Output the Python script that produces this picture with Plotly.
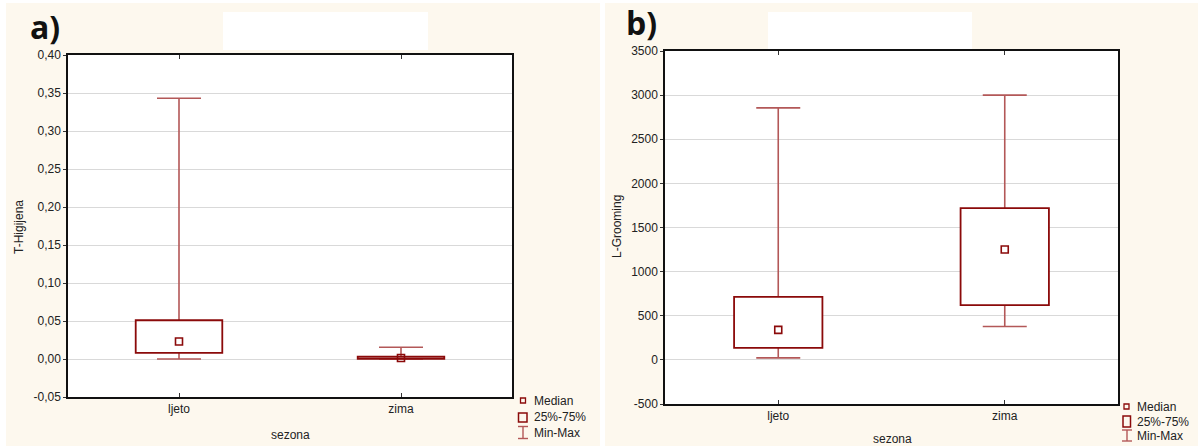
import plotly.graph_objects as go

# ---------------- data ----------------
categories = ["ljeto", "zima"]

# panel a) T-Higijena
a_min = [0.0, 0.0]
a_q1 = [0.008, 0.0003]
a_median = [0.023, 0.0013]
a_q3 = [0.051, 0.003]
a_max = [0.343, 0.0154]
a_ticks = [-0.05, 0.0, 0.05, 0.10, 0.15, 0.20, 0.25, 0.30, 0.35, 0.40]

# panel b) L-Grooming
b_min = [23, 378]
b_q1 = [136, 620]
b_median = [340, 1250]
b_q3 = [714, 1720]
b_max = [2855, 3000]
b_ticks = [-500, 0, 500, 1000, 1500, 2000, 2500, 3000, 3500]

# ---------------- styles ----------------
W, H = 1198, 446
BOX_COL = "#8B0A0A"
WHISK_COL = "#B35858"
CREAM = "#FDF8EE"
FONT = "Liberation Sans, Arial, sans-serif"
TXT = "#222222"


def px(x):
    return x / W


def py(y):
    return 1 - y / H


fig = go.Figure()


def add_panel(xa, ya, xo, yo, vmin, q1, med, q3, vmax):
    # whiskers (base layer)
    fig.add_trace(go.Scatter(
        x=categories, y=med, mode="markers",
        marker=dict(size=1, opacity=0),
        error_y=dict(type="data", symmetric=False,
                     array=[mx - m for mx, m in zip(vmax, med)],
                     arrayminus=[m - mn for m, mn in zip(med, vmin)],
                     color=WHISK_COL, thickness=1.6, width=22),
        xaxis=xa, yaxis=ya, showlegend=False, hoverinfo="skip"))
    # boxes (overlay layer, on top of whiskers)
    fig.add_trace(go.Bar(
        x=categories, base=q1, y=[b - a for a, b in zip(q1, q3)],
        width=0.39, marker=dict(color="white", line=dict(color=BOX_COL, width=1.8)),
        xaxis=xo, yaxis=yo, showlegend=False, hoverinfo="skip"))
    # medians
    fig.add_trace(go.Scatter(
        x=categories, y=med, mode="markers",
        marker=dict(symbol="square-open", size=7, color=BOX_COL, line=dict(width=1.6)),
        xaxis=xo, yaxis=yo, showlegend=False, hoverinfo="skip"))


add_panel("x", "y", "x3", "y3", a_min, a_q1, a_median, a_q3, a_max)
add_panel("x2", "y2", "x4", "y4", b_min, b_q1, b_median, b_q3, b_max)

A_BOX = (68, 512, 55, 397)
B_BOX = (665, 1118, 51, 404)
a_dom_x = [px(A_BOX[0]), px(A_BOX[1])]
a_dom_y = [py(A_BOX[3]), py(A_BOX[2])]
b_dom_x = [px(B_BOX[0]), px(B_BOX[1])]
b_dom_y = [py(B_BOX[3]), py(B_BOX[2])]
a_range = [-0.05, 0.40]
b_range = [-500, 3500]

xbase = dict(type="category", categoryorder="array", categoryarray=categories,
             range=[-0.5, 1.5], showline=True, linecolor="#111", linewidth=1.5,
             mirror="ticks", ticks="inside", ticklen=4, tickcolor="#333",
             showgrid=False, automargin=False,
             tickfont=dict(family=FONT, size=12, color=TXT))
ybase = dict(showline=True, linecolor="#111", linewidth=1.5, mirror=True,
             ticks="outside", ticklen=3, tickcolor="#333", automargin=False,
             showgrid=True, gridcolor="#D9D9D9", gridwidth=1, zeroline=False,
             tickfont=dict(family=FONT, size=12, color=TXT))
xover = dict(type="category", categoryorder="array", categoryarray=categories,
             range=[-0.5, 1.5], visible=False, showgrid=False, automargin=False)
yover = dict(visible=False, showgrid=False, zeroline=False, automargin=False)

fig.update_layout(
    width=W, height=H, autosize=False,
    margin=dict(l=0, r=0, t=0, b=0, pad=0),
    paper_bgcolor="white", plot_bgcolor="white",
    barmode="overlay",
    xaxis=dict(xbase, domain=a_dom_x, anchor="y"),
    yaxis=dict(ybase, domain=a_dom_y, anchor="x", range=a_range,
               tickvals=a_ticks,
               ticktext=[("%.2f" % v).replace(".", ",") for v in a_ticks]),
    xaxis2=dict(xbase, domain=b_dom_x, anchor="y2"),
    yaxis2=dict(ybase, domain=b_dom_y, anchor="x2", range=b_range,
                tickvals=b_ticks, ticktext=[str(v) for v in b_ticks]),
    xaxis3=dict(xover, domain=a_dom_x, anchor="y3", overlaying="x"),
    yaxis3=dict(yover, domain=a_dom_y, anchor="x3", range=a_range, overlaying="y"),
    xaxis4=dict(xover, domain=b_dom_x, anchor="y4", overlaying="x2"),
    yaxis4=dict(yover, domain=b_dom_y, anchor="x4", range=b_range, overlaying="y2"),
)

shapes = []
# panel backgrounds
for x0, x1 in [(6, 600), (605, 1198)]:
    shapes.append(dict(type="rect", xref="paper", yref="paper", layer="below",
                       x0=px(x0), x1=px(x1), y0=py(446), y1=py(3),
                       fillcolor=CREAM, line=dict(width=0)))
# white plot areas
for (x0, x1, y0, y1) in [A_BOX, B_BOX]:
    shapes.append(dict(type="rect", xref="paper", yref="paper", layer="below",
                       x0=px(x0), x1=px(x1), y0=py(y1), y1=py(y0),
                       fillcolor="white", line=dict(width=0)))
# blank white title boxes
for x0, x1 in [(223, 428), (768, 972)]:
    shapes.append(dict(type="rect", xref="paper", yref="paper", layer="below",
                       x0=px(x0), x1=px(x1), y0=py(50), y1=py(12),
                       fillcolor="white", line=dict(width=0)))


def legend(sq_c, box, ibar, text_x, text_ys):
    cx, cy = sq_c
    shapes.append(dict(type="rect", xref="paper", yref="paper",
                       x0=px(cx - 2.5), x1=px(cx + 2.5), y0=py(cy + 2.5), y1=py(cy - 2.5),
                       line=dict(color=BOX_COL, width=1.3)))
    bx0, bx1, by0, by1 = box
    shapes.append(dict(type="rect", xref="paper", yref="paper",
                       x0=px(bx0), x1=px(bx1), y0=py(by1), y1=py(by0),
                       line=dict(color=BOX_COL, width=1.5)))
    ix, iy0, iy1, hw = ibar
    for (xa0, ya0, xa1, ya1) in [(ix, iy0, ix, iy1), (ix - hw, iy0, ix + hw, iy0),
                                 (ix - hw, iy1, ix + hw, iy1)]:
        shapes.append(dict(type="line", xref="paper", yref="paper",
                           x0=px(xa0), x1=px(xa1), y0=py(ya0), y1=py(ya1),
                           line=dict(color=WHISK_COL, width=1.4)))
    anns = []
    for t, yy in zip(["Median", "25%-75%", "Min-Max"], text_ys):
        anns.append(dict(text=t, xref="paper", yref="paper", x=px(text_x), y=py(yy),
                         xanchor="left", yanchor="middle", showarrow=False,
                         font=dict(family=FONT, size=12, color=TXT)))
    return anns


annotations = []
annotations += legend((523, 400.5), (518.5, 527, 413, 422), (523, 426.5, 438.5, 5),
                      532, [401, 417, 433])
annotations += legend((1126.5, 406.5), (1123, 1130.5, 416, 427), (1127, 430, 441, 5),
                      1135, [407, 422, 436])

# axis titles
for t, x, y in [("T-Higijena", 19, 227), ("L-Grooming", 617, 227)]:
    annotations.append(dict(text=t, xref="paper", yref="paper", x=px(x), y=py(y),
                            xanchor="center", yanchor="middle", textangle=-90,
                            showarrow=False, font=dict(family=FONT, size=12, color=TXT)))
for x, y in [(290, 435), (892, 439)]:
    annotations.append(dict(text="sezona", xref="paper", yref="paper", x=px(x), y=py(y),
                            xanchor="center", yanchor="middle", showarrow=False,
                            font=dict(family=FONT, size=12, color=TXT)))

# panel letters
for t, x, y in [("a)", 45, 27), ("b)", 641, 22)]:
    annotations.append(dict(text="<b>%s</b>" % t, xref="paper", yref="paper",
                            x=px(x), y=py(y), xanchor="center", yanchor="middle",
                            showarrow=False,
                            font=dict(family="Open Sans, sans-serif", size=32, color="#111111")))

fig.update_layout(shapes=shapes, annotations=annotations)

fig.write_html("out.html", config={"displayModeBar": False},
               post_script="document.body.style.margin='0';document.body.style.padding='0';")
